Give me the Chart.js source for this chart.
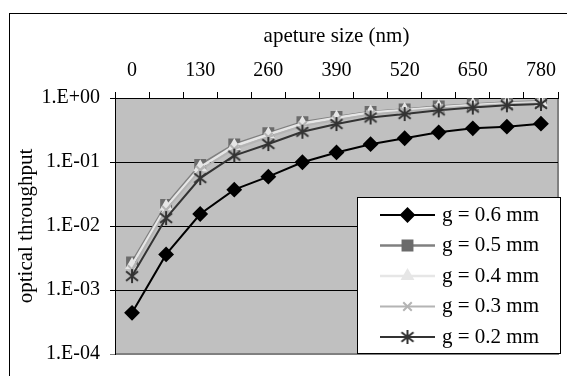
<!DOCTYPE html>
<html>
<head>
<meta charset="utf-8">
<script src="https://cdn.jsdelivr.net/npm/chart.js@4.4.0/dist/chart.umd.min.js"></script>
<style>
  html, body { margin: 0; padding: 0; background: #fff; }
  #wrap { width: 567px; height: 376px; }
</style>
</head>
<body>
<div id="wrap"><canvas id="throughputChart" width="567" height="376"></canvas></div>
<script>
// Optical throughput vs aperture size (log y axis), one line per gap g

const apertureLabels = ['0', '65', '130', '195', '260', '325', '390', '455', '520', '585', '650', '715', '780'];
const yTicks = [1e-4, 1e-3, 1e-2, 1e-1, 1];

const g06 = [4.4e-4, 3.6e-3, 0.0154, 0.037, 0.059, 0.099, 0.141, 0.19, 0.235, 0.291, 0.336, 0.356, 0.397];
const g05 = [2.7e-3, 0.0213, 0.0898, 0.188, 0.282, 0.417, 0.505, 0.604, 0.661, 0.736, 0.79, 0.85, 0.88];
const g04 = [2.46e-3, 0.0199, 0.083, 0.178, 0.269, 0.40, 0.49, 0.593, 0.65, 0.72, 0.78, 0.826, 0.857];
const g03 = [2.1e-3, 0.0178, 0.075, 0.16, 0.246, 0.365, 0.453, 0.552, 0.615, 0.686, 0.742, 0.797, 0.829];
const g02 = [1.65e-3, 0.0133, 0.056, 0.126, 0.191, 0.297, 0.392, 0.496, 0.562, 0.642, 0.71, 0.769, 0.806];

const seriesNames = ['g = 0.6 mm', 'g = 0.5 mm', 'g = 0.4 mm', 'g = 0.3 mm', 'g = 0.2 mm'];

Chart.defaults.font.family = "'Liberation Serif', 'Times New Roman', serif";
Chart.defaults.color = '#000';

// excel style asterisk marker (x plus a vertical bar)
function starMarker(color, r) {
    const c = document.createElement('canvas');
    const s = r * 2 + 6;
    c.width = s; c.height = s;
    const ctx = c.getContext('2d');
    const m = s / 2;
    ctx.strokeStyle = color;
    ctx.lineWidth = 2;
    ctx.beginPath();
    ctx.moveTo(m - r, m - r * 0.8); ctx.lineTo(m + r, m + r * 0.8);
    ctx.moveTo(m + r, m - r * 0.8); ctx.lineTo(m - r, m + r * 0.8);
    ctx.moveTo(m, m - r - 1); ctx.lineTo(m, m + r + 1);
    ctx.stroke();
    return c;
}

function expLabel(v) {
    const e = Math.round(Math.log10(v));
    const a = Math.abs(e);
    return '1.E' + (e < 0 ? '-' : '+') + (a < 10 ? '0' + a : a);
}

const framePlugin = {
    id: 'frame',
    beforeDraw(chart) {
        const { ctx, chartArea: a } = chart;
        ctx.save();
        ctx.fillStyle = '#fff';
        ctx.fillRect(0, 0, chart.width, chart.height);
        ctx.strokeStyle = '#000';
        ctx.lineWidth = 1;
        ctx.strokeRect(9.5, 13.5, chart.width + 20, chart.height + 20);
        ctx.fillStyle = '#c0c0c0';
        ctx.fillRect(a.left, a.top, a.right - a.left, a.bottom - a.top);
        ctx.strokeStyle = '#808080';
        ctx.lineWidth = 2;
        ctx.beginPath();
        ctx.moveTo(a.right, a.top);
        ctx.lineTo(a.right, a.bottom);
        ctx.lineTo(a.left, a.bottom);
        ctx.stroke();
        ctx.restore();
    }
};

// legend box sitting inside the plot, bottom right
const boxLegend = {
    id: 'boxLegend',
    afterDraw(chart) {
        const { ctx, chartArea: a } = chart;
        const left = a.right - 201, top = a.bottom - 157;
        ctx.save();
        ctx.fillStyle = '#fff';
        ctx.fillRect(left, top, a.right + 2 - left, a.bottom - 1 - top);
        ctx.strokeStyle = '#000';
        ctx.lineWidth = 1;
        ctx.strokeRect(left + 0.5, top + 0.5, a.right + 2 - left, a.bottom - 1 - top);
        chart.data.datasets.forEach(function (ds, i) {
            const y = top + 18 + i * 30.5;
            const x0 = left + 23, x1 = left + 78;
            ctx.strokeStyle = ds.borderColor;
            ctx.lineWidth = ds.borderWidth;
            ctx.beginPath();
            ctx.moveTo(x0, y);
            ctx.lineTo(x1, y);
            ctx.stroke();
            const cx = (x0 + x1) / 2;
            if (ds.pointStyle instanceof HTMLCanvasElement) {
                ctx.drawImage(ds.pointStyle, cx - ds.pointStyle.width / 2, y - ds.pointStyle.height / 2);
            } else {
                ctx.fillStyle = ds.pointBackgroundColor;
                ctx.strokeStyle = ds.pointBorderColor;
                ctx.lineWidth = ds.pointBorderWidth;
                Chart.helpers.drawPoint(ctx, { pointStyle: ds.pointStyle, radius: ds.pointRadius, rotation: 0, borderWidth: ds.pointBorderWidth }, cx, y);
            }
            ctx.fillStyle = '#000';
            ctx.font = "21px 'Liberation Serif'";
            ctx.textAlign = 'left';
            ctx.textBaseline = 'middle';
            ctx.fillText(ds.label, left + 85, y);
        });
        ctx.restore();
    }
};

function line(label, data, color, style, radius, fill, ptBorder, bw) {
    return {
        label: label,
        data: data,
        borderColor: color,
        borderWidth: bw,
        pointStyle: style,
        pointRadius: radius,
        pointBackgroundColor: fill,
        pointBorderColor: ptBorder,
        pointBorderWidth: 2,
        tension: 0,
        fill: false
    };
}

const datasets = [
    line(seriesNames[0], g06, '#000000', 'rectRot', 6.5, '#000000', '#000000', 2),
    line(seriesNames[1], g05, '#808080', 'rect', 7, '#6b6b6b', '#6b6b6b', 2.5),
    line(seriesNames[2], g04, '#e6e6e6', 'triangle', 6, '#e6e6e6', '#e6e6e6', 2.5),
    line(seriesNames[3], g03, '#b4b4b4', 'crossRot', 6, '#b4b4b4', '#b4b4b4', 2),
    line(seriesNames[4], g02, '#333333', starMarker('#333333', 6), 6, '#333333', '#333333', 2)
];
// later series painted on top, as in the original
datasets.forEach(function (ds, i) { ds.order = datasets.length - i; });

new Chart(document.getElementById('throughputChart').getContext('2d'), {
    type: 'line',
    data: { labels: apertureLabels, datasets: datasets },
    options: {
        responsive: false,
        animation: false,
        devicePixelRatio: 1,
        layout: { padding: { left: 0, top: 0, right: 4, bottom: 22 } },
        plugins: { legend: { display: false }, tooltip: { enabled: false } },
        scales: {
            x: {
                type: 'category',
                position: 'top',
                offset: true,
                grid: { offset: true, drawOnChartArea: false, tickLength: 6, color: '#000' },
                border: { color: '#000', width: 1 },
                ticks: {
                    autoSkip: false,
                    maxRotation: 0,
                    padding: 9,
                    font: { size: 20 },
                    callback: function (val, i) { return i % 2 === 0 ? this.getLabelForValue(val) : ''; }
                },
                title: { display: true, text: 'apeture size (nm)', font: { size: 21 }, padding: { top: 24, bottom: 0 } },
                afterFit: function (scale) { scale.height = 98; }
            },
            y: {
                type: 'logarithmic',
                min: yTicks[0],
                max: yTicks[yTicks.length - 1],
                afterBuildTicks: function (scale) {
                    scale.ticks = yTicks.map(function (v) { return { value: v }; });
                },
                grid: {
                    tickLength: 5,
                    color: function (c) { return c.tick && c.tick.value === yTicks[0] ? '#808080' : '#000'; }
                },
                border: { color: '#000', width: 1 },
                ticks: {
                    padding: 10,
                    font: { size: 20 },
                    callback: function (v) { return expLabel(v); }
                },
                title: { display: true, text: 'optical throughput', font: { size: 21 }, padding: { top: 14, bottom: 0 } },
                afterFit: function (scale) { scale.width = 115; }
            }
        }
    },
    plugins: [framePlugin, boxLegend]
});
</script>
</body>
</html>
